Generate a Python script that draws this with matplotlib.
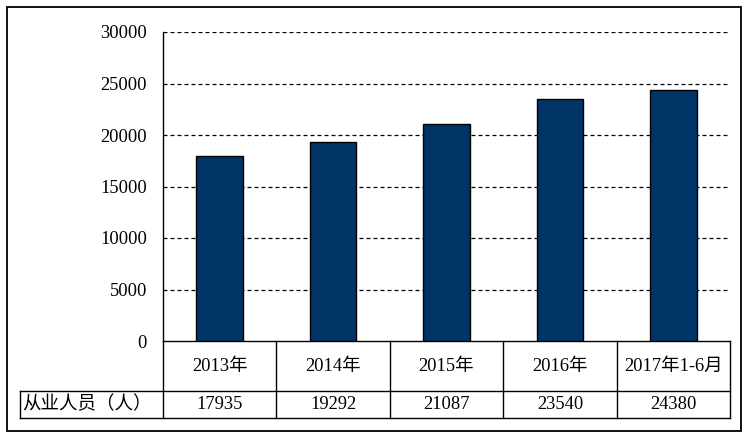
import matplotlib
matplotlib.use('Agg')
import matplotlib.pyplot as plt
from matplotlib.patches import Rectangle

plt.rcParams['font.family'] = ['Liberation Serif', 'Noto Sans CJK SC']

categories = ['2013年', '2014年', '2015年', '2016年', '2017年1-6月']
values = [17935, 19292, 21087, 23540, 24380]
row_label = '从业人员（人）'
yticks = [0, 5000, 10000, 15000, 20000, 25000, 30000]

W, H = 749, 438
BAR_COLOR = '#003366'
FS = 13.3

fig = plt.figure(figsize=(W / 100, H / 100), dpi=100)

# plot area (pixels: x 163..730, y 32..341)
px0, px1, py0, py1 = 163, 730, 32, 341
ax = fig.add_axes([px0 / W, 1 - py1 / H, (px1 - px0) / W, (py1 - py0) / H])
x = list(range(len(categories)))
ax.bar(x, values, width=0.41, color=BAR_COLOR, edgecolor='black', linewidth=1.0, zorder=3)
ax.set_xlim(-0.5, len(categories) - 0.5)
ax.set_ylim(0, 30000)
ax.set_yticks(yticks)
ax.set_yticklabels([str(v) for v in yticks], fontsize=FS)
ax.tick_params(axis='y', length=0, pad=11.5)
ax.set_xticks([])
for v in yticks[1:]:
    ax.axhline(v, color='black', linestyle=(0, (3.2, 2.4)), linewidth=0.9, zorder=1)
for s in ['top', 'right']:
    ax.spines[s].set_visible(False)
ax.spines['left'].set_linewidth(1.0)
ax.spines['bottom'].set_linewidth(1.0)

# data table below (pixels: x 20..730, y 341..418)
tx0, ty0, ty1 = 20, 341, 418
col_w = (px1 - px0) / len(categories)
lab_cols = (px0 - tx0) / col_w
tax = fig.add_axes([tx0 / W, 1 - ty1 / H, (px1 - tx0) / W, (ty1 - ty0) / H])
tax.set_xlim(-0.5 - lab_cols, len(categories) - 0.5)
tax.set_ylim(0, ty1 - ty0)
tax.axis('off')
row_y = ty1 - 391
lw = 1.0
kw = dict(color='black', linewidth=lw, clip_on=False)
tax.plot([-0.5 - lab_cols, len(categories) - 0.5], [0, 0], **kw)
tax.plot([-0.5 - lab_cols, len(categories) - 0.5], [row_y, row_y], **kw)
tax.plot([-0.5 - lab_cols, -0.5 - lab_cols], [0, row_y], **kw)
for i in range(len(categories) + 1):
    tax.plot([i - 0.5, i - 0.5], [0, ty1 - ty0], **kw)

for i, (c, v) in enumerate(zip(categories, values)):
    tax.text(i, (row_y + ty1 - ty0) / 2, c, ha='center', va='center', fontsize=FS)
    tax.text(i, row_y / 2, str(v), ha='center', va='center', fontsize=FS)
tax.text(-0.5 - lab_cols + 0.02, row_y / 2, row_label, ha='left', va='center', fontsize=FS)

# outer chart border
fig.add_artist(Rectangle((6.5 / W, 1 - 431 / H), (741 - 6.5) / W, (431 - 6.5) / H,
                         transform=fig.transFigure, fill=False, edgecolor='black', linewidth=1.3))

fig.savefig('out.png', dpi=100)
